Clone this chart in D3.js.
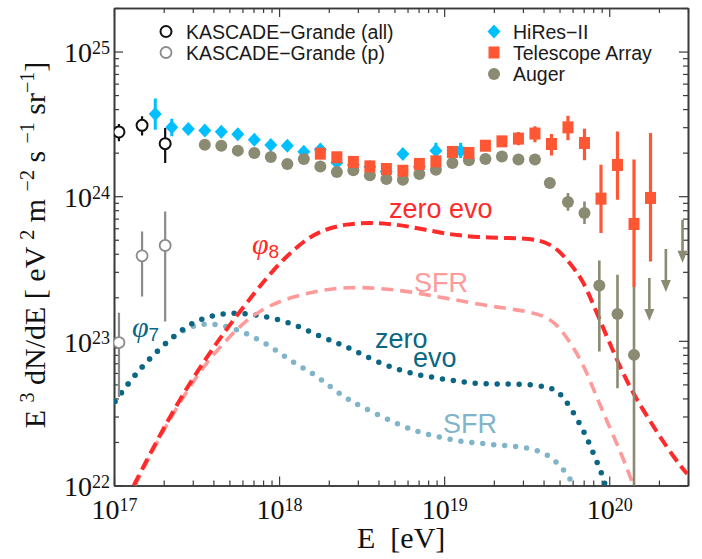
<!DOCTYPE html>
<html>
<head>
<meta charset="utf-8">
<script src="https://cdn.jsdelivr.net/npm/d3@7"></script>
<style>
  body { margin: 0; background: #fff; }
  svg { display: block; }
</style>
</head>
<body>
<svg width="702" height="559"></svg>
<script>
var width = 702, height = 559;
var plot = {left: 114, right: 688, top: 8, bottom: 485.5};

// Data, all as log10(E / eV) and log10(E^3 dN/dE)
// rows: [logE, logJ, logJlow, logJhigh]
var kascadeAll = [
  [17.03, 24.444, 24.379, 24.499],
  [17.17, 24.490, 24.420, 24.552],
  [17.31, 24.363, 24.229, 24.471]
];
var kascadeP = [
  [17.03, 22.988, 22.612, 23.194],
  [17.17, 23.588, 23.307, 23.756],
  [17.31, 23.660, 23.134, 23.895]
];
var hires = [
  [17.25, 24.569, 24.460, 24.675],
  [17.35, 24.476, 24.414, 24.536],
  [17.45, 24.465], [17.55, 24.455], [17.65, 24.446], [17.75, 24.428],
  [17.85, 24.391], [17.95, 24.354], [18.05, 24.349], [18.15, 24.308],
  [18.25, 24.322], [18.35, 24.232], [18.45, 24.218], [18.55, 24.204],
  [18.65, 24.170], [18.75, 24.292], [18.85, 24.204],
  [18.95, 24.315, 24.260, 24.370],
  [19.10, 24.315, 24.264, 24.370]
];
var telescopeArray = [
  [18.25, 24.294], [18.35, 24.269], [18.45, 24.237], [18.55, 24.206],
  [18.65, 24.188], [18.75, 24.176], [18.85, 24.223], [18.95, 24.241],
  [19.05, 24.306], [19.15, 24.299], [19.25, 24.349], [19.35, 24.379],
  [19.45, 24.398, 24.352, 24.444],
  [19.55, 24.433, 24.373, 24.483],
  [19.65, 24.361, 24.282, 24.430],
  [19.75, 24.476, 24.387, 24.557],
  [19.85, 24.368, 24.248, 24.466],
  [19.95, 23.983, 23.745, 24.218],
  [20.05, 24.216, 23.976, 24.448],
  [20.15, 23.808, 23.372, 24.253],
  [20.25, 23.988, 23.549, 24.437]
];
var auger = [
  [17.55, 24.356], [17.65, 24.349], [17.75, 24.315], [17.85, 24.299],
  [17.95, 24.271], [18.05, 24.223], [18.15, 24.257], [18.25, 24.206],
  [18.35, 24.167], [18.45, 24.179], [18.55, 24.144], [18.65, 24.119],
  [18.75, 24.114], [18.85, 24.154], [18.95, 24.183], [19.05, 24.230],
  [19.15, 24.248], [19.25, 24.257], [19.35, 24.275], [19.45, 24.253],
  [19.55, 24.253], [19.64, 24.091],
  [19.75, 23.960, 23.900, 24.022],
  [19.85, 23.884, 23.808, 23.964],
  [19.94, 23.383, 22.926, 23.556],
  [20.05, 23.185, 22.673, 23.457],
  [20.15, 22.903, 21.500, 23.372]
];
// upper limits: [logE, logJ]
var augerLimits = [[20.243, 23.434], [20.343, 23.635], [20.444, 23.837]];

// model curves: [logE, logJ]
var phi8Zero = [
  [17.12, 22.0], [17.25, 22.29], [17.40, 22.60], [17.55, 22.87],
  [17.70, 23.11], [17.85, 23.33], [17.95, 23.47], [18.05, 23.59],
  [18.15, 23.69], [18.25, 23.76], [18.40, 23.81], [18.60, 23.82],
  [18.80, 23.79], [19.00, 23.74], [19.20, 23.715], [19.45, 23.71],
  [19.58, 23.70], [19.68, 23.645], [19.76, 23.54], [19.84, 23.42],
  [19.90, 23.26], [20.00, 22.99], [20.10, 22.73], [20.20, 22.53],
  [20.30, 22.35], [20.40, 22.18], [20.472, 22.08]
];
var phi8Sfr = [
  [17.127, 22.0], [17.25, 22.28], [17.40, 22.58], [17.55, 22.84],
  [17.70, 23.03], [17.80, 23.14], [17.92, 23.235], [18.08, 23.305],
  [18.25, 23.35], [18.42, 23.372], [18.60, 23.365], [18.80, 23.34],
  [19.03, 23.29], [19.33, 23.23], [19.54, 23.20], [19.66, 23.145],
  [19.74, 23.03], [19.84, 22.85], [19.92, 22.62], [20.00, 22.41],
  [20.08, 22.20], [20.142, 22.015]
];
var phi7Zero = [
  [17.006, 22.580], [17.087, 22.707], [17.168, 22.818], [17.258, 22.926],
  [17.359, 23.030], [17.460, 23.118], [17.581, 23.173], [17.712, 23.196],
  [17.839, 23.185], [17.968, 23.157], [18.101, 23.111], [18.226, 23.042],
  [18.347, 22.988], [18.458, 22.933], [18.579, 22.862], [18.710, 22.804],
  [18.831, 22.767], [18.962, 22.742], [19.093, 22.718], [19.224, 22.702],
  [19.355, 22.702], [19.486, 22.702], [19.618, 22.684], [19.678, 22.661],
  [19.728, 22.603], [19.799, 22.476], [19.860, 22.343], [19.910, 22.206],
  [19.960, 22.068], [19.976, 22.0]
];
var phi7Sfr = [
  [17.006, 22.580], [17.087, 22.707], [17.168, 22.818], [17.258, 22.926],
  [17.359, 23.030], [17.460, 23.100], [17.551, 23.120], [17.641, 23.111],
  [17.742, 23.081], [17.863, 23.019], [17.980, 22.938], [18.085, 22.850],
  [18.206, 22.776], [18.307, 22.684], [18.408, 22.603], [18.458, 22.569],
  [18.579, 22.500], [18.710, 22.430], [18.831, 22.372], [18.962, 22.338],
  [19.093, 22.303], [19.224, 22.292], [19.355, 22.275], [19.486, 22.269],
  [19.618, 22.223], [19.688, 22.154], [19.748, 22.078], [19.783, 22.0]
];

var xTickExps = [17, 18, 19, 20];
var yTickExps = [22, 23, 24, 25];

var legendLeft = ["KASCADE\u2212Grande (all)", "KASCADE\u2212Grande (p)"];
var legendRight = ["HiRes\u2212II", "Telescope Array", "Auger"];

var colors = {
  kAll: "#111111", kP: "#8a8a8a", hires: "#00bfff", ta: "#ff5733",
  auger: "#8b8a72", red: "#ff2a2a", pink: "#ff9a9a",
  teal: "#0a6683", lteal: "#80b5c9", axis: "#3a3a3a"
};

var x = d3.scaleLog().domain([1e17, 3e20]).range([plot.left, plot.right]);
var y = d3.scaleLog().domain([1e22, 2e25]).range([plot.bottom, plot.top]);
function X(l) { return x(Math.pow(10, l)); }
function Y(l) { return y(Math.pow(10, l)); }

var svg = d3.select("svg");

svg.append("clipPath").attr("id", "clip")
  .append("rect")
  .attr("x", plot.left).attr("y", plot.top)
  .attr("width", plot.right - plot.left).attr("height", plot.bottom - plot.top);

// ticks
function minors(lo, hi, max) {
  var out = [];
  for (var e = lo; e <= hi; e++) for (var m = 2; m <= 9; m++) {
    var v = m * Math.pow(10, e);
    if (v <= max) out.push(v);
  }
  return out;
}
var xMajor = xTickExps.map(function (e) { return Math.pow(10, e); });
var yMajor = yTickExps.map(function (e) { return Math.pow(10, e); });
var xMinor = minors(17, 20, 3e20);
var yMinor = minors(22, 25, 2e25);

function supLabels(g) {
  g.selectAll(".tick text").text(null).each(function (d) {
    var t = d3.select(this);
    t.append("tspan").text("10");
    t.append("tspan").attr("dy", "-0.45em").attr("font-size", "18px")
      .text(Math.round(Math.log10(d)));
  });
}

function axisStyle(g) {
  g.selectAll(".domain").attr("stroke", colors.axis).attr("stroke-width", 1.6);
  g.selectAll(".tick line").attr("stroke", colors.axis).attr("stroke-width", 1.2);
  g.selectAll("text").attr("font-family", "'Liberation Serif', serif")
    .attr("font-size", 28).attr("fill", "#111");
}

var axes = svg.append("g");
// bottom
axes.append("g").attr("transform", "translate(0," + plot.bottom + ")")
  .call(d3.axisBottom(x).tickValues(xMinor).tickSize(-5).tickSizeOuter(0).tickFormat(""))
  .call(axisStyle);
axes.append("g").attr("transform", "translate(0," + plot.bottom + ")")
  .call(d3.axisBottom(x).tickValues(xMajor).tickSize(-9).tickSizeOuter(0).tickPadding(14))
  .call(axisStyle).call(supLabels);
// top
axes.append("g").attr("transform", "translate(0," + plot.top + ")")
  .call(d3.axisTop(x).tickValues(xMinor).tickSize(-5).tickSizeOuter(0).tickFormat(""))
  .call(axisStyle);
axes.append("g").attr("transform", "translate(0," + plot.top + ")")
  .call(d3.axisTop(x).tickValues(xMajor).tickSize(-9).tickSizeOuter(0).tickFormat(""))
  .call(axisStyle);
// left
axes.append("g").attr("transform", "translate(" + plot.left + ",0)")
  .call(d3.axisLeft(y).tickValues(yMinor).tickSize(-5).tickSizeOuter(0).tickFormat(""))
  .call(axisStyle);
axes.append("g").attr("transform", "translate(" + plot.left + ",0)")
  .call(d3.axisLeft(y).tickValues(yMajor).tickSize(-9).tickSizeOuter(0).tickPadding(4))
  .call(axisStyle).call(supLabels)
  .selectAll(".tick text").attr("dy", "0.37em");
// right
axes.append("g").attr("transform", "translate(" + plot.right + ",0)")
  .call(d3.axisRight(y).tickValues(yMinor).tickSize(-5).tickSizeOuter(0).tickFormat(""))
  .call(axisStyle);
axes.append("g").attr("transform", "translate(" + plot.right + ",0)")
  .call(d3.axisRight(y).tickValues(yMajor).tickSize(-9).tickSizeOuter(0).tickFormat(""))
  .call(axisStyle);

// axis titles
svg.append("text")
  .attr("x", 357).attr("y", 548)
  .attr("font-family", "'Liberation Serif', serif").attr("font-size", 30).attr("fill", "#111")
  .attr("xml:space", "preserve")
  .text("E  [eV]");

var yl = svg.append("text")
  .attr("transform", "translate(45,245) rotate(-90)")
  .attr("text-anchor", "middle")
  .attr("font-family", "'Liberation Serif', serif").attr("font-size", 30).attr("fill", "#111")
  .attr("xml:space", "preserve");
var ylParts = [["E ", 0], ["3", 1], [" dN/dE [ eV ", 0], ["2", 1], [" m ", 0], ["\u22122", 1],
               [" s ", 0], ["\u22121", 1], [" sr", 0], ["\u22121", 1], ["]", 0]];
var raised = false;
ylParts.forEach(function (p) {
  var t = yl.append("tspan").text(p[0]);
  if (p[1] && !raised) { t.attr("dy", -11).attr("font-size", 20); raised = true; }
  else if (p[1]) { t.attr("font-size", 20); }
  else if (raised) { t.attr("dy", 11); raised = false; }
});

// model curves
var curves = svg.append("g").attr("clip-path", "url(#clip)");
var line = d3.line().x(function (d) { return X(d[0]); }).y(function (d) { return Y(d[1]); })
  .curve(d3.curveBasis);

curves.append("path").datum(phi7Sfr).attr("d", line)
  .attr("fill", "none").attr("stroke", colors.lteal).attr("stroke-width", 5.5)
  .attr("stroke-linecap", "round").attr("stroke-dasharray", "0 11");
curves.append("path").datum(phi7Zero).attr("d", line)
  .attr("fill", "none").attr("stroke", colors.teal).attr("stroke-width", 5.5)
  .attr("stroke-linecap", "round").attr("stroke-dasharray", "0 11");
curves.append("path").datum(phi8Sfr).attr("d", line)
  .attr("fill", "none").attr("stroke", colors.pink).attr("stroke-width", 3.6)
  .attr("stroke-dasharray", "12 7");
curves.append("path").datum(phi8Zero).attr("d", line)
  .attr("fill", "none").attr("stroke", colors.red).attr("stroke-width", 4)
  .attr("stroke-dasharray", "12 6");

// curve annotations
var sans = "'Liberation Sans', Arial, sans-serif";
function note(xp, yp, txt, col) {
  svg.append("text").attr("x", xp).attr("y", yp).attr("font-family", sans)
    .attr("font-size", 27).attr("fill", col).text(txt);
}
note(389, 218, "zero evo", colors.red);
note(414, 292, "SFR", colors.pink);
note(375, 348, "zero", colors.teal);
note(413, 367, "evo", colors.teal);
note(443, 433, "SFR", colors.lteal);

function phiLabel(xp, yp, sub, col) {
  var t = svg.append("text").attr("x", xp).attr("y", yp).attr("fill", col);
  t.append("tspan").attr("font-family", "'Liberation Serif', serif").attr("font-style", "italic")
    .attr("font-size", 30).text("\u03c6");
  t.append("tspan").attr("font-family", sans).attr("font-size", 19).attr("dy", 4).text(sub);
}
phiLabel(252, 254, "8", colors.red);
phiLabel(132, 337, "7", colors.teal);

// data
var data = svg.append("g").attr("clip-path", "url(#clip)");

function errorBars(arr, col, w) {
  data.append("g").selectAll("line")
    .data(arr.filter(function (d) { return d.length > 2; }))
    .enter().append("line")
    .attr("x1", function (d) { return X(d[0]); }).attr("x2", function (d) { return X(d[0]); })
    .attr("y1", function (d) { return Y(d[2]); }).attr("y2", function (d) { return Y(d[3]); })
    .attr("stroke", col).attr("stroke-width", w);
}

errorBars(kascadeP, colors.kP, 2.2);
data.append("g").selectAll("circle").data(kascadeP).enter().append("circle")
  .attr("cx", function (d) { return X(d[0]); }).attr("cy", function (d) { return Y(d[1]); })
  .attr("r", 5.5).attr("fill", "#fff").attr("stroke", colors.kP).attr("stroke-width", 1.8);

errorBars(kascadeAll, colors.kAll, 2.2);
data.append("g").selectAll("circle").data(kascadeAll).enter().append("circle")
  .attr("cx", function (d) { return X(d[0]); }).attr("cy", function (d) { return Y(d[1]); })
  .attr("r", 5.5).attr("fill", "#fff").attr("stroke", colors.kAll).attr("stroke-width", 2);

var diamond = "M0,-7L6.5,0L0,7L-6.5,0Z";
errorBars(hires, colors.hires, 3);
data.append("g").selectAll("path").data(hires).enter().append("path")
  .attr("transform", function (d) { return "translate(" + X(d[0]) + "," + Y(d[1]) + ")"; })
  .attr("d", diamond).attr("fill", colors.hires);

errorBars(auger, colors.auger, 2.6);
data.append("g").selectAll("circle").data(auger).enter().append("circle")
  .attr("cx", function (d) { return X(d[0]); }).attr("cy", function (d) { return Y(d[1]); })
  .attr("r", 6).attr("fill", colors.auger);

// auger upper limits
var lim = data.append("g").selectAll("g").data(augerLimits).enter().append("g")
  .attr("transform", function (d) { return "translate(" + X(d[0]) + "," + Y(d[1]) + ")"; });
lim.append("line").attr("x1", 0).attr("x2", 0).attr("y1", 0).attr("y2", 32)
  .attr("stroke", colors.auger).attr("stroke-width", 2.6);
lim.append("path").attr("d", "M-5,31L5,31L0,43Z").attr("fill", colors.auger);

errorBars(telescopeArray, colors.ta, 3.2);
data.append("g").selectAll("rect").data(telescopeArray).enter().append("rect")
  .attr("x", function (d) { return X(d[0]) - 5.5; }).attr("y", function (d) { return Y(d[1]) - 6; })
  .attr("width", 11).attr("height", 12).attr("fill", colors.ta);

// legend
var leg = svg.append("g").attr("font-family", sans).attr("font-size", 19.5).attr("fill", "#1a1a1a");
leg.append("circle").attr("cx", 166).attr("cy", 31.5).attr("r", 5.5)
  .attr("fill", "#fff").attr("stroke", colors.kAll).attr("stroke-width", 2);
leg.append("circle").attr("cx", 166).attr("cy", 52.5).attr("r", 5.5)
  .attr("fill", "#fff").attr("stroke", colors.kP).attr("stroke-width", 1.8);
leg.selectAll("text.l").data(legendLeft).enter().append("text")
  .attr("x", 186).attr("y", function (d, i) { return 38.5 + i * 21; }).text(function (d) { return d; });

leg.append("path").attr("transform", "translate(494,31.5)").attr("d", diamond).attr("fill", colors.hires);
leg.append("rect").attr("x", 488.5).attr("y", 46.5).attr("width", 11).attr("height", 12).attr("fill", colors.ta);
leg.append("circle").attr("cx", 494).attr("cy", 74).attr("r", 6).attr("fill", colors.auger);
leg.selectAll("text.r").data(legendRight).enter().append("text")
  .attr("x", 513).attr("y", function (d, i) { return 38.5 + i * 21; }).text(function (d) { return d; });
</script>
</body>
</html>
